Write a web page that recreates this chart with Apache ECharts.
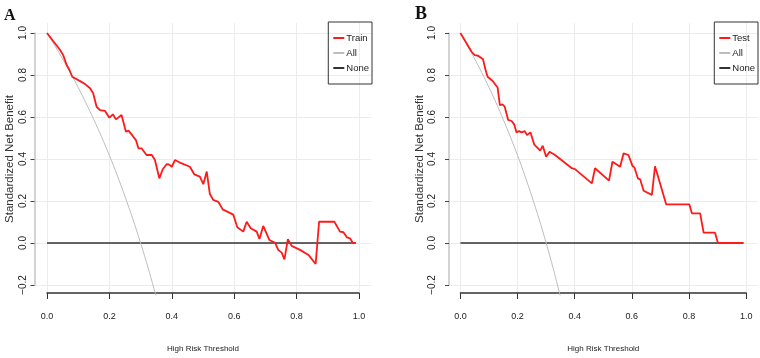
<!DOCTYPE html>
<html>
<head>
<meta charset="utf-8">
<script src="https://cdn.jsdelivr.net/npm/echarts@6/dist/echarts.min.js"></script>
<style>
  html, body { margin: 0; padding: 0; background: #fff; }
  #chart { width: 760px; height: 358px; }
</style>
</head>
<body>
<div id="chart"></div>
<script>
// axis ticks
const xTicks = [0, 0.2, 0.4, 0.6, 0.8, 1.0]
const yTicks = [-0.2, 0, 0.2, 0.4, 0.6, 0.8, 1.0]

// panel A - training cohort
const trainT = [0, 0.042, 0.052, 0.063, 0.072, 0.081, 0.106, 0.122, 0.138, 0.148, 0.159, 0.170, 0.186, 0.200,
  0.211, 0.221, 0.239, 0.253, 0.261, 0.275, 0.285, 0.293, 0.303, 0.319, 0.336, 0.346, 0.360, 0.371, 0.384,
  0.392, 0.400, 0.410, 0.426, 0.458, 0.472, 0.490, 0.501, 0.512, 0.522, 0.533, 0.549, 0.563, 0.597, 0.610,
  0.629, 0.640, 0.653, 0.672, 0.681, 0.693, 0.713, 0.731, 0.741, 0.752, 0.761, 0.772, 0.784, 0.811, 0.838,
  0.861, 0.872, 0.921, 0.939, 0.950, 0.961, 0.971, 0.980, 0.990]
const trainV = [1.0, 0.919, 0.895, 0.848, 0.824, 0.792, 0.771, 0.757, 0.737, 0.713, 0.649, 0.633, 0.629, 0.597,
  0.613, 0.589, 0.610, 0.530, 0.535, 0.510, 0.490, 0.451, 0.451, 0.419, 0.419, 0.395, 0.308, 0.351, 0.376,
  0.373, 0.363, 0.395, 0.383, 0.363, 0.327, 0.316, 0.280, 0.340, 0.233, 0.205, 0.196, 0.160, 0.135, 0.075,
  0.054, 0.101, 0.070, 0.054, 0.019, 0.081, 0.014, 0.001, -0.033, -0.046, -0.078, 0.018, -0.014, -0.033, -0.057,
  -0.100, 0.101, 0.101, 0.054, 0.051, 0.027, 0.022, 0.001, 0.0]

// panel B - test cohort
const testT = [0, 0.039, 0.050, 0.062, 0.079, 0.088, 0.095, 0.112, 0.130, 0.138, 0.147, 0.155, 0.167, 0.179,
  0.188, 0.196, 0.205, 0.214, 0.225, 0.233, 0.245, 0.258, 0.279, 0.288, 0.300, 0.312, 0.331, 0.390, 0.401,
  0.460, 0.471, 0.520, 0.532, 0.559, 0.571, 0.588, 0.602, 0.609, 0.621, 0.629, 0.641, 0.670, 0.681, 0.720,
  0.801, 0.810, 0.839, 0.851, 0.891, 0.901, 0.991]
const testV = [1.0, 0.911, 0.895, 0.892, 0.875, 0.824, 0.792, 0.773, 0.741, 0.657, 0.660, 0.649, 0.586, 0.581,
  0.565, 0.527, 0.533, 0.527, 0.533, 0.514, 0.527, 0.470, 0.440, 0.463, 0.411, 0.435, 0.419, 0.356, 0.352,
  0.284, 0.356, 0.297, 0.387, 0.363, 0.427, 0.419, 0.367, 0.360, 0.308, 0.303, 0.249, 0.229, 0.365, 0.184,
  0.184, 0.141, 0.141, 0.049, 0.049, 0.001, 0.0]

// treat-all and treat-none reference curves (same in both panels)
const allT = [0, 0.025, 0.05, 0.075, 0.1, 0.125, 0.15, 0.175, 0.2, 0.225, 0.25, 0.275, 0.3, 0.325, 0.35]
const allV = [1.0, 0.940, 0.877, 0.811, 0.741, 0.667, 0.588, 0.505, 0.417, 0.323, 0.222, 0.115, 0.0, -0.123, -0.256]
const noneT = [0, 0.99]
const noneV = [0, 0]

const zip = (xs, ys) => xs.map((x, i) => [x, ys[i]])

const SANS = '"Liberation Sans", Arial, sans-serif'
const GRID_LINE = { show: true, lineStyle: { color: '#ececec', width: 1 } }
const RED = '#ff1a1a'
const GREY = '#bdbdbd'
const DARK = '#333'

// pixel layout of each panel (R plot region incl. 4% padding)
const PANELS = [
  { left: 34.5, width: 337, yLabelMargin: 6, yNameGap: 19, legendRight: 388, cohort: 'Train', t: trainT, v: trainV },
  { left: 449, width: 308.6, yLabelMargin: 12, yNameGap: 13, legendRight: 2, cohort: 'Test', t: testT, v: testV },
]
const TOP = 23
const HEIGHT = 272

const grid = []
const xAxis = []
const yAxis = []
const series = []
const legend = []

PANELS.forEach((p, k) => {
  const base = k * 3
  const inner = p.width / 1.08
  const x0 = p.left + 0.04 * inner
  // data region
  grid.push({ left: p.left, top: TOP, width: p.width, height: HEIGHT })
  // x axis region (0..1 only)
  grid.push({ left: x0, top: TOP, width: inner, height: HEIGHT })
  // y axis region (-0.2..1.0 only)
  grid.push({ left: p.left, top: TOP + 10, width: p.width, height: HEIGHT - 20 })

  xAxis.push({ gridIndex: base, type: 'value', min: -0.04, max: 1.04, show: false, axisLine: { onZero: false } })
  yAxis.push({ gridIndex: base, type: 'value', min: -0.248, max: 1.048, show: false, axisLine: { onZero: false } })

  xAxis.push({
    gridIndex: base + 1, type: 'value', min: xTicks[0], max: xTicks[xTicks.length - 1], interval: 0.2,
    axisLine: { show: true, onZero: false, lineStyle: { color: DARK, width: 1.5 } },
    axisTick: { show: true, length: 6, lineStyle: { color: DARK, width: 1 } },
    axisLabel: { margin: 19, color: '#222', fontFamily: SANS, fontSize: 9, formatter: (v) => v.toFixed(1) },
    splitLine: GRID_LINE,
    name: 'High Risk Threshold', nameLocation: 'middle', nameGap: 52,
    nameTextStyle: { fontFamily: SANS, fontSize: 8, color: '#222' },
  })
  yAxis.push({ gridIndex: base + 1, type: 'value', min: -0.248, max: 1.048, show: false, axisLine: { onZero: false } })

  xAxis.push({ gridIndex: base + 2, type: 'value', min: -0.04, max: 1.04, show: false, axisLine: { onZero: false } })
  yAxis.push({
    gridIndex: base + 2, type: 'value', min: yTicks[0], max: yTicks[yTicks.length - 1], interval: 0.2,
    axisLine: { show: true, onZero: false, lineStyle: { color: '#c4c4c4', width: 1.5 } },
    axisTick: { show: true, length: 4, lineStyle: { color: '#444', width: 1 } },
    axisLabel: { rotate: 90, margin: p.yLabelMargin, color: '#222', fontFamily: SANS, fontSize: 10,
      formatter: (v) => v.toFixed(1).replace('-', '\u2212') },
    splitLine: GRID_LINE,
    name: 'Standardized Net Benefit', nameLocation: 'middle', nameGap: p.yNameGap,
    nameTextStyle: { fontFamily: SANS, fontSize: 11.5, color: '#333' },
  })

  series.push({
    name: 'None', type: 'line', xAxisIndex: base, yAxisIndex: base, data: zip(noneT, noneV),
    symbol: 'none', color: DARK, lineStyle: { color: DARK, width: 1.5 }, z: 2,
  })
  series.push({
    name: 'All', type: 'line', xAxisIndex: base, yAxisIndex: base, data: zip(allT, allV),
    symbol: 'none', smooth: 0.3, color: GREY, lineStyle: { color: GREY, width: 1 }, z: 3,
  })
  series.push({
    name: p.cohort, type: 'line', xAxisIndex: base, yAxisIndex: base, data: zip(p.t, p.v),
    symbol: 'none', color: RED, lineStyle: { color: RED, width: 1.8 }, z: 4,
  })

  legend.push({
    data: [
      { name: p.cohort, icon: 'rect', itemStyle: { color: RED } },
      { name: 'All', icon: 'rect', itemStyle: { color: GREY } },
      { name: 'None', icon: 'rect', itemStyle: { color: DARK } },
    ],
    orient: 'vertical', right: p.legendRight, top: 22,
    itemWidth: 11, itemHeight: 2, itemGap: 5, padding: [11, 3, 11, 5],
    borderColor: DARK, borderWidth: 1, borderRadius: 0,
    textStyle: { fontFamily: SANS, fontSize: 9.5, color: '#222', padding: [0, 0, 0, -3] },
    selectedMode: false,
  })
})

const chart = echarts.init(document.getElementById('chart'))
chart.setOption({
  animation: false,
  backgroundColor: '#fff',
  title: [
    { text: 'A', left: -1, top: 3, textStyle: { fontFamily: '"Liberation Serif", serif', fontWeight: 'bold', fontSize: 16, color: '#111' } },
    { text: 'B', left: 410, top: 0, textStyle: { fontFamily: '"Liberation Serif", serif', fontWeight: 'bold', fontSize: 18, color: '#111' } },
  ],
  legend,
  grid,
  xAxis,
  yAxis,
  series,
})
</script>
</body>
</html>
